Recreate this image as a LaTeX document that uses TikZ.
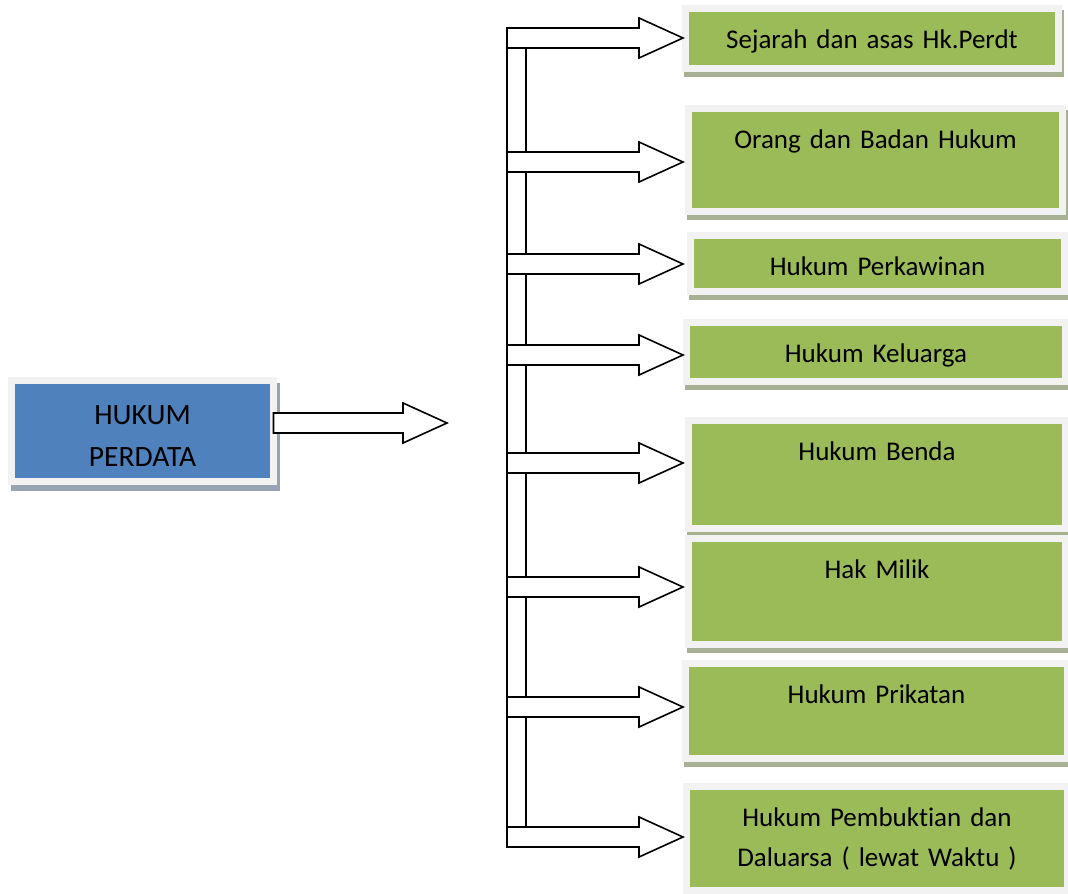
\documentclass[tikz,border=0pt]{standalone}
\usepackage{fontspec}
\setmainfont{Carlito}[Ligatures={NoCommon}]
\usetikzlibrary{calc,shadows}
\definecolor{leafgreen}{HTML}{9BBB59}
\definecolor{rootblue}{HTML}{4F81BD}
\definecolor{boxframe}{HTML}{F2F2F2}
\definecolor{leafshadow}{HTML}{A6B092}
\definecolor{rootshadow}{HTML}{98A2B3}
\tikzset{ % common looks of the boxes and arrows
	leaf/.style={
		rectangle, fill=leafgreen, draw=boxframe, line width=7pt, % light frame round the box
		inner sep=0pt, outer sep=0pt, anchor=north west,
		text height=39.5pt, align=center, % text sits near the top
		font=\fontsize{27}{40}\selectfont,
		drop shadow={shadow xshift=2pt, shadow yshift=-5pt, fill=leafshadow,
			draw=leafshadow, line width=7pt, opacity=1}
	},
	root/.style={
		rectangle, fill=rootblue, draw=boxframe, line width=7pt,
		inner sep=0pt, outer sep=0pt, anchor=north west,
		text height=43.5pt, align=center,
		font=\fontsize{29.5}{42}\selectfont,
		drop shadow={shadow xshift=3pt, shadow yshift=-6pt, fill=rootshadow,
			draw=rootshadow, line width=7pt, opacity=1}
	},
	spine/.style={
		rectangle, draw=black, fill=white, line width=1.6pt,
		inner sep=0pt, outer sep=0pt, anchor=north west
	},
	blockarrow/.style={draw=black, fill=white, line width=1.6pt, line join=miter}
}
% block arrow: shaft starts at #1, tip at #2 (both at the same height)
\newcommand{\blockarrow}[2]{%
	\draw[blockarrow] ($(#1)+(0,-10)$) -- ($(#2)+(-44,-10)$) -- ($(#2)+(-44,-20)$) -- (#2)
	-- ($(#2)+(-44,20)$) -- ($(#2)+(-44,10)$) -- ($(#1)+(0,10)$) -- cycle;}

\begin{document}
\begin{tikzpicture}[x=1pt,y=-1pt]
	\clip (0,0) rectangle (1068,894);
	% Root
	\node[root, text width=262pt, text depth=57.5pt] (hukum) at (11.5,380.5) {HUKUM\\PERDATA};
	% Branches
	\node[leaf, text width=373pt, text depth=20.5pt] (sejarah) at (685.5,8.5) {Sejarah dan asas Hk.Perdt};
	\node[leaf, text width=374pt, text depth=63.5pt] (orang) at (688.5,108.5) {Orang dan Badan Hukum};
	\node[leaf, text width=374pt, text depth=16.5pt] (kawin) at (690.5,235.5) {Hukum Perkawinan};
	\node[leaf, text width=379pt, text depth=19.5pt] (keluarga) at (686.5,322.5) {Hukum Keluarga};
	\node[leaf, text width=377pt, text depth=68.5pt] (benda) at (688.5,420.5) {Hukum Benda};
	\node[leaf, text width=377pt, text depth=66.5pt] (milik) at (688.5,538.5) {Hak Milik};
	\node[leaf, text width=382pt, text depth=55.5pt] (prikatan) at (685.5,663.5) {Hukum Prikatan};
	\node[leaf, text width=381pt, text depth=64.5pt] (bukti) at (686.5,786.5) {Hukum Pembuktian dan\\Daluarsa ( lewat Waktu )};
	% Main arrow
	\coordinate (maintip) at (447,423);
	\blockarrow{hukum.east |- maintip}{maintip}
	% Spine and arrows to the branches
	\node[spine, minimum width=19pt, minimum height=819pt] (spine) at (507,28) {};
	\foreach \ty [count=\i] in {38,162,264,355,463,587,707,837} {
		\coordinate (tip\i) at (683,\ty);
		\blockarrow{spine.west |- tip\i}{tip\i}
	}
\end{tikzpicture}
\end{document}
